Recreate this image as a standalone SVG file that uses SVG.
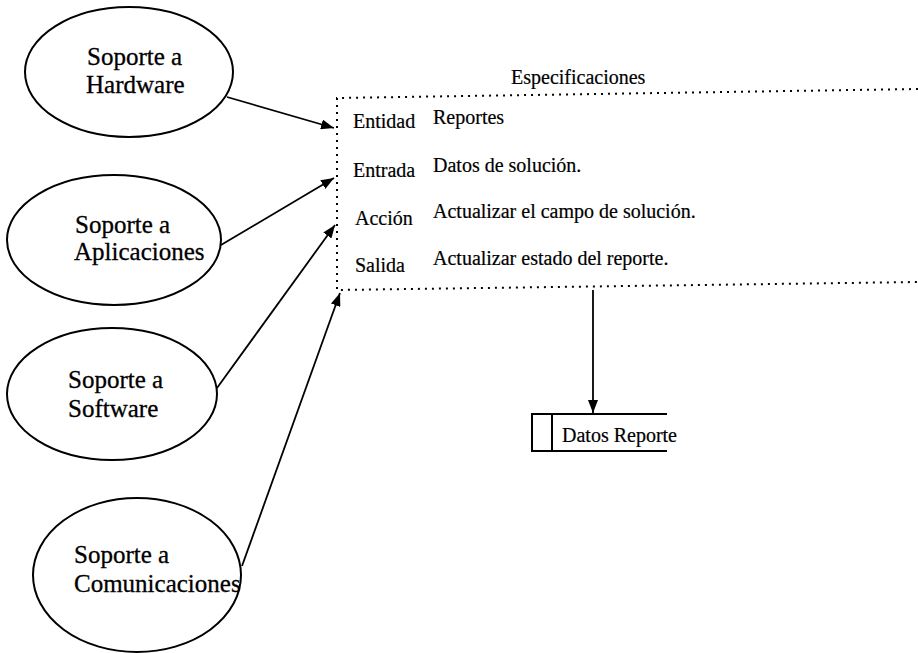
<svg xmlns="http://www.w3.org/2000/svg" width="918" height="653" viewBox="0 0 918 653">
  <style>
    .bg { fill: #ffffff; }
    .proc { fill: none; stroke: #000; stroke-width: 2; }
    .lbl { font-family: "Liberation Serif", "Times New Roman", serif; font-size: 25px; fill: #000; stroke: #000; stroke-width: 0.3; }
    .spec { font-family: "Liberation Serif", "Times New Roman", serif; font-size: 20px; fill: #000; stroke: #000; stroke-width: 0.2; }
    .dots { fill: none; stroke: #000; stroke-width: 2; stroke-dasharray: 2 5; }
    .flow { fill: none; stroke: #000; stroke-width: 1.8; marker-end: url(#arrow); }
    .store { fill: none; stroke: #000; stroke-width: 2; }
  </style>
  <defs>
    <marker id="arrow" viewBox="0 0 13 10" refX="13" refY="5" markerWidth="13" markerHeight="10" markerUnits="userSpaceOnUse" orient="auto">
      <path d="M0,0 L13,5 L0,10 Z" fill="#000"/>
    </marker>
  </defs>

  <rect class="bg" x="0" y="0" width="918" height="653"/>

  <!-- support processes -->
  <g id="soporte-hardware">
    <ellipse class="proc" cx="129" cy="72" rx="104" ry="65"/>
    <text class="lbl" x="87" y="65">Soporte a</text>
    <text class="lbl" x="86" y="93">Hardware</text>
  </g>
  <g id="soporte-aplicaciones">
    <ellipse class="proc" cx="114" cy="240" rx="107" ry="65"/>
    <text class="lbl" x="75" y="233">Soporte a</text>
    <text class="lbl" x="74" y="260">Aplicaciones</text>
  </g>
  <g id="soporte-software">
    <ellipse class="proc" cx="112" cy="394" rx="105" ry="66"/>
    <text class="lbl" x="68" y="388">Soporte a</text>
    <text class="lbl" x="68" y="417">Software</text>
  </g>
  <g id="soporte-comunicaciones">
    <ellipse class="proc" cx="137" cy="575" rx="104" ry="77"/>
    <text class="lbl" x="74" y="563">Soporte a</text>
    <text class="lbl" x="74" y="592">Comunicaciones</text>
  </g>

  <!-- specification block -->
  <g id="especificaciones">
    <text class="spec" x="511" y="84">Especificaciones</text>
    <path class="dots" d="M918,89 L337,98 L337,290 L918,282"/>
    <text class="spec" x="353" y="128">Entidad</text>
    <text class="spec" x="433" y="124">Reportes</text>
    <text class="spec" x="353" y="177">Entrada</text>
    <text class="spec" x="433" y="172">Datos de solución.</text>
    <text class="spec" x="355" y="225">Acción</text>
    <text class="spec" x="433" y="218">Actualizar el campo de solución.</text>
    <text class="spec" x="355" y="272">Salida</text>
    <text class="spec" x="433" y="265">Actualizar estado del reporte.</text>
  </g>

  <!-- data store -->
  <g id="datos-reporte">
    <path class="store" d="M667,414 L532,414 L532,451 L667,451 M552,414 L552,451"/>
    <text class="spec" x="562" y="442">Datos Reporte</text>
  </g>

  <!-- connectors -->
  <g id="connectors">
    <line class="flow" x1="227" y1="97" x2="334" y2="128"/>
    <line class="flow" x1="221" y1="245" x2="334" y2="178"/>
    <line class="flow" x1="217" y1="388" x2="335" y2="225"/>
    <line class="flow" x1="242" y1="566" x2="340" y2="293"/>
    <line class="flow" x1="593" y1="290" x2="593" y2="413"/>
  </g>
</svg>
